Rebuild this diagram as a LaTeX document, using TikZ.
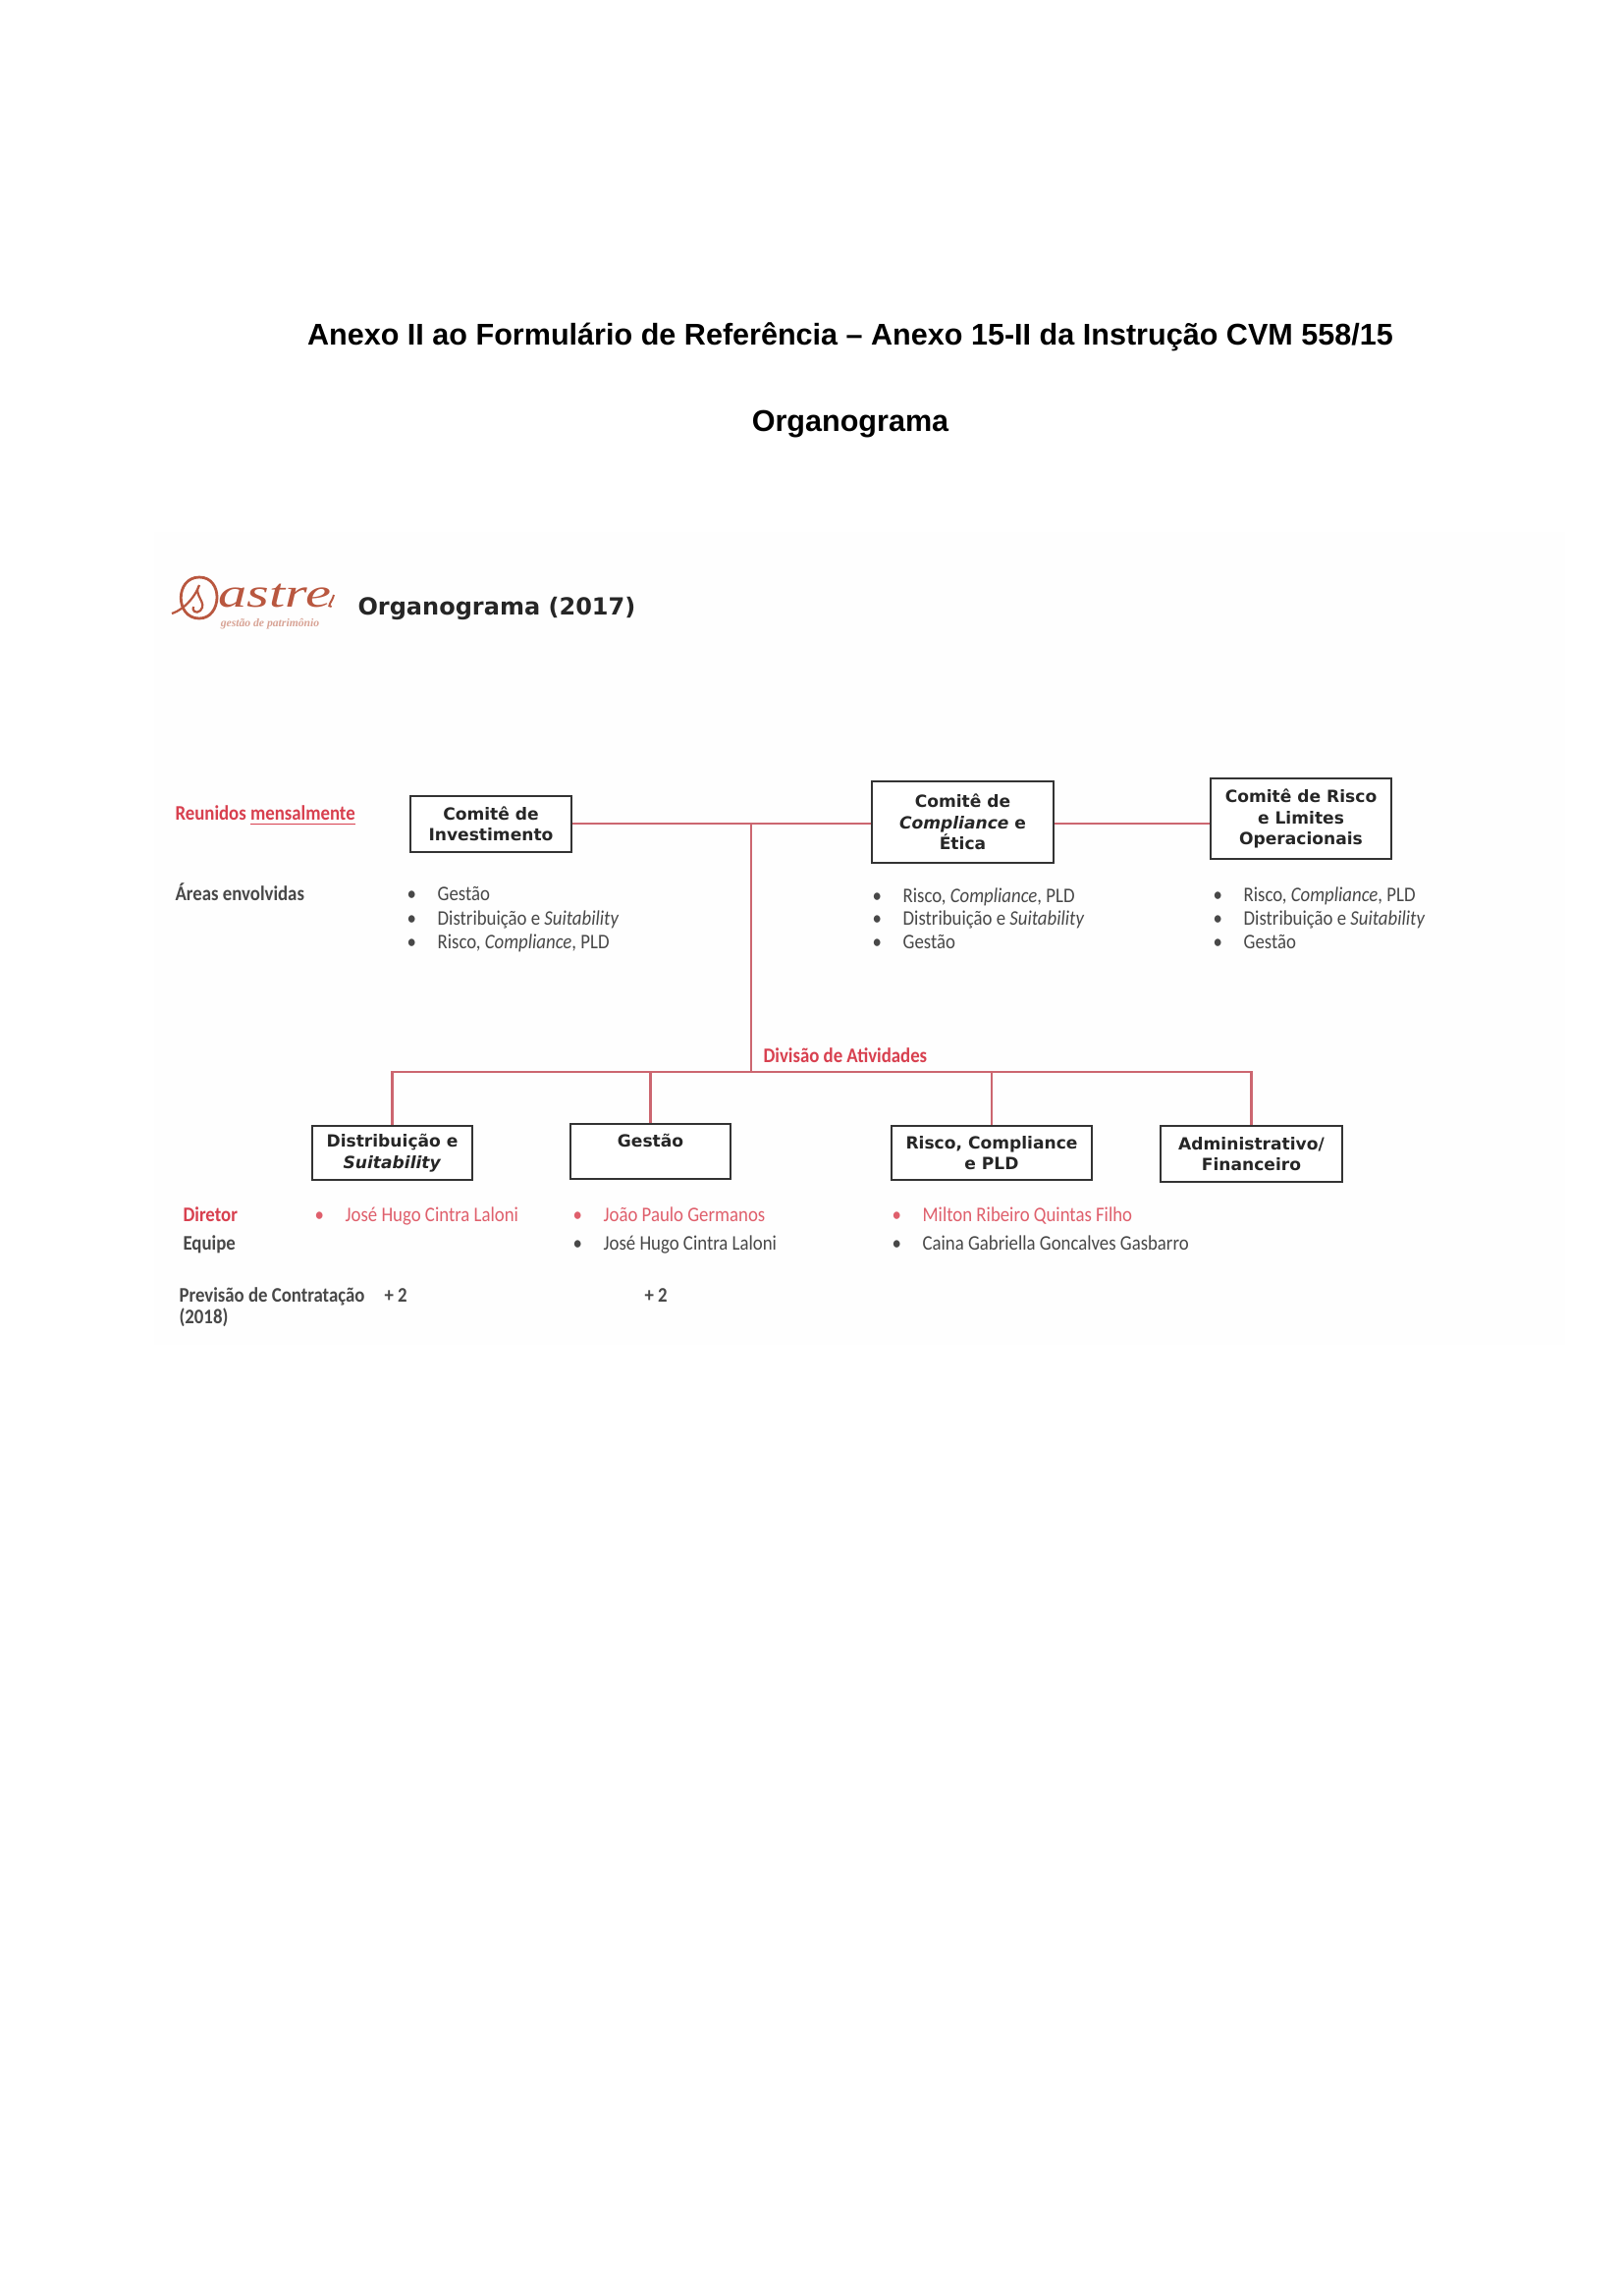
\documentclass[tikz,border=0pt]{standalone}
\usepackage{fontspec}
\setmainfont[FakeStretch=0.89]{Carlito}
\newfontfamily\titlefont{Liberation Sans}
\newfontfamily\boxfont{DejaVu Sans}
\newfontfamily\logofont[FakeStretch=1.4]{Liberation Serif}
\newfontfamily\logosubfont{Liberation Serif}
\definecolor{colorLink}{HTML}{CC6670}
\definecolor{colorRed}{HTML}{D8404F}
\definecolor{colorRedSoft}{HTML}{DF5F6C}
\definecolor{colorText}{HTML}{484848}
\definecolor{colorLogo}{HTML}{B9573F}
\definecolor{colorPanel}{HTML}{FEFEFE}
\usetikzlibrary{positioning}
\newcommand{\bl}[1]{\makebox[11.2pt][l]{\textbullet}#1}
\tikzset{
  titletext/.style={font=\titlefont\bfseries\fontsize{11}{13}\selectfont, text=black, inner sep=0pt},
  headtext/.style={font=\boxfont\bfseries\fontsize{8.64}{10}\selectfont, text=black!85, inner sep=0pt},
  orgbox/.style={draw=black!80, line width=0.8pt, fill=white, inner sep=0pt, align=center,
    font=\boxfont\bfseries\fontsize{6.15}{7.7}\selectfont, text=black!85},
  link/.style={draw=colorLink, line width=0.8pt},
  body/.style={anchor=west, inner sep=0pt, yshift=-1pt, text height=6pt, text depth=3.6pt,
    font=\fontsize{7.6}{10}\selectfont, text=colorText},
  bodyred/.style={body, text=colorRedSoft},
}
\begin{document}
\begin{tikzpicture}[x=0.3599pt, y=-0.3599pt]
\useasboundingbox (0,0) rectangle (1654,2339);
\fill[colorPanel] (157,542) rectangle (1594,1370);

\node[titletext] (title) at (866,343) {Anexo II ao Formulário de Referência – Anexo 15-II da Instrução CVM 558/15};
\node[titletext] (subtitle) at (866,432) {Organograma};

% logo
\draw[colorLogo, line width=1pt] (203,588) .. controls (178,588) and (178,630) .. (203,630)
  .. controls (226,630) and (228,588) .. (203,588);
\draw[colorLogo, line width=0.8pt] (175,625) .. controls (190,620) and (200,605) .. (203,596)
  .. controls (196,606) and (212,614) .. (204,622) .. controls (200,626) and (195,622) .. (197,618);
\node[inner sep=0pt, anchor=base west, text=colorLogo, font=\logofont\itshape\fontsize{15}{15}\selectfont] (logoname) at (222,618) {astre};
\draw[colorLogo, line width=0.7pt] (logoname.base east) .. controls (332,618) and (338,614) .. (340,606);
\node[inner sep=0pt, text=colorLogo!55, font=\logosubfont\itshape\bfseries\fontsize{4.2}{6}\selectfont] (logosub) at (275,636) {gestão de patrimônio};

\node[headtext, anchor=west] (heading) at (364,620) {Organograma (2017)};

% comites
\node[orgbox, minimum width=59pt, minimum height=20.5pt] (invest) at (500,839.5) {Comitê de\\Investimento};
\node[orgbox, minimum width=66.6pt, minimum height=29.9pt] (compl) at (980.5,837.5) {Comitê de\\\textit{Compliance} e\\Ética};
\node[orgbox, minimum width=66.2pt, minimum height=29.5pt] (risco) at (1325,834) {Comitê de Risco\\e Limites\\Operacionais};

\coordinate (joinTop) at (765,839);
\coordinate (joinLow) at (765,1092);
\draw[link] (invest.east |- joinTop) -- (compl.west |- joinTop);
\draw[link] (compl.east |- joinTop) -- (risco.west |- joinTop);
\draw[link] (joinTop) -- (joinLow);

\node[body, text=colorRed] (reunidos) at (178,829) {\textbf{Reunidos \underline{mensalmente}}};
\node[body] (areas) at (178,911) {\textbf{Áreas envolvidas}};

\node[body] (a1) at (414,911) {\bl{Gestão}};
\node[body] (a2) at (414,936) {\bl{Distribuição e \textit{Suitability}}};
\node[body] (a3) at (414,960) {\bl{Risco, \textit{Compliance}, PLD}};

\node[body] (b1) at (888,913) {\bl{Risco, \textit{Compliance}, PLD}};
\node[body] (b2) at (888,936) {\bl{Distribuição e \textit{Suitability}}};
\node[body] (b3) at (888,960) {\bl{Gestão}};

\node[body] (c1) at (1235,912) {\bl{Risco, \textit{Compliance}, PLD}};
\node[body] (c2) at (1235,936) {\bl{Distribuição e \textit{Suitability}}};
\node[body] (c3) at (1235,960) {\bl{Gestão}};

\node[body, text=colorRed] (divisao) at (777,1076) {\textbf{Divisão de Atividades}};

% areas
\node[orgbox, minimum width=58.7pt, minimum height=19.8pt] (dist) at (399.5,1174.5) {Distribuição e\\\textit{Suitability}};
\node[orgbox, minimum width=58.7pt, minimum height=20.2pt] (gestao) at (662.5,1173) {Gestão\\~};
\node[orgbox, minimum width=73.4pt, minimum height=19.8pt] (rcp) at (1010,1174.5) {Risco, Compliance\\e PLD};
\node[orgbox, minimum width=66.6pt, minimum height=20.5pt] (adm) at (1274.5,1175.5) {Administrativo/\\Financeiro};

\draw[link] (joinLow) -| (dist.north);
\draw[link] (joinLow) -| (gestao.north);
\draw[link] (joinLow) -| (rcp.north);
\draw[link] (joinLow) -| (adm.north);

\node[body, text=colorRed] (diretor) at (186,1238) {\textbf{Diretor}};
\node[body] (equipe) at (186,1267) {\textbf{Equipe}};

\node[bodyred] (d1) at (320,1238) {\bl{José Hugo Cintra Laloni}};
\node[bodyred] (d2) at (583,1238) {\bl{João Paulo Germanos}};
\node[bodyred] (d3) at (908,1238) {\bl{Milton Ribeiro Quintas Filho}};
\node[body] (e2) at (583,1267) {\bl{José Hugo Cintra Laloni}};
\node[body] (e3) at (908,1267) {\bl{Caina Gabriella Goncalves Gasbarro}};

\node[body] (previsao) at (182,1320) {\textbf{Previsão de Contratação}};
\node[body] (ano) at (182,1342) {\textbf{(2018)}};
\node[body] (plus1) at (391,1320) {\textbf{+ 2}};
\node[body] (plus2) at (656,1320) {\textbf{+ 2}};
\end{tikzpicture}
\end{document}
